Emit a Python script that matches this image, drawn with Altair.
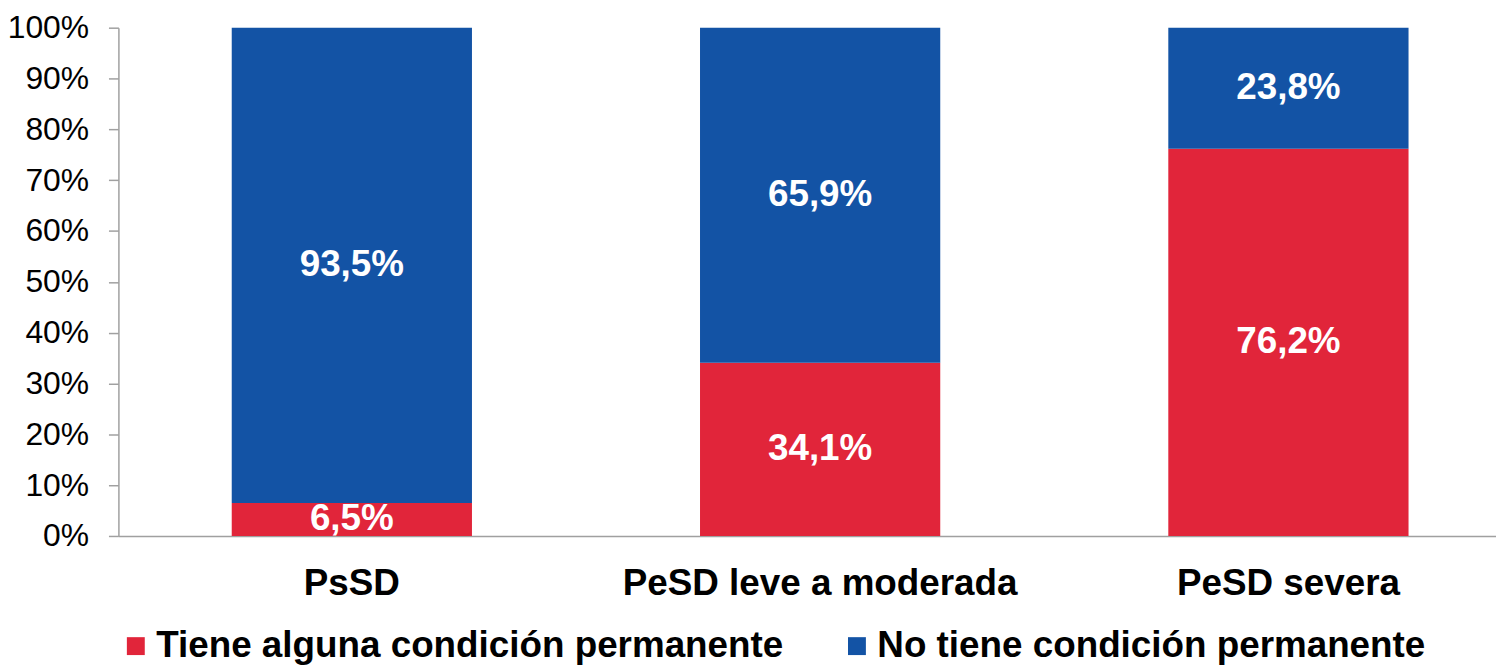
import altair as alt
import pandas as pd

categories = ["PsSD", "PeSD leve a moderada", "PeSD severa"]
series = ["Tiene alguna condición permanente", "No tiene condición permanente"]
tiene = [6.5, 34.1, 76.2]
no_tiene = [93.5, 65.9, 23.8]
colors = ["#E1253A", "#1353A5"]
y_ticks = [0, 10, 20, 30, 40, 50, 60, 70, 80, 90, 100]

rows = []
for i, c in enumerate(categories):
    rows.append({"cat": c, "serie": series[0], "value": tiene[i], "ord": 0})
    rows.append({"cat": c, "serie": series[1], "value": no_tiene[i], "ord": 1})
df = pd.DataFrame(rows)

FONT = "Liberation Sans"

base = alt.Chart(df).transform_stack(
    stack="value", groupby=["cat"], sort=[alt.SortField("ord")], as_=["y0", "y1"]
).transform_calculate(
    mid="(datum.y0 + datum.y1) / 2",
    lab="replace(format(datum.value, '.1f'), '.', ',') + '%'",
)

x_enc = alt.X(
    "cat:N",
    sort=categories,
    title=None,
    scale=alt.Scale(range=[0, 1411], paddingInner=0.487, paddingOuter=0.242),
    axis=alt.Axis(
        labelAngle=0,
        labelFont=FONT,
        labelFontSize=37,
        labelFontWeight="bold",
        labelColor="#000000",
        labelPadding=30,
        labelLimit=1000,
        ticks=False,
        domainColor="#A0A0A0",
        domainWidth=1.5,
        grid=False,
    ),
)

bars = base.mark_bar().encode(
    x=x_enc,
    y=alt.Y(
        "y0:Q",
        scale=alt.Scale(domain=[0, 100]),
        title=None,
        axis=alt.Axis(
            values=y_ticks,
            labelExpr="datum.value + '%'",
            labelFont=FONT,
            labelFontSize=32,
            labelColor="#000000",
            labelPadding=20,
            tickSize=10,
            tickColor="#A0A0A0",
            tickWidth=1.5,
            domainColor="#A0A0A0",
            domainWidth=1.5,
            grid=False,
        ),
    ),
    y2="y1:Q",
    color=alt.Color(
        "serie:N",
        scale=alt.Scale(domain=series, range=colors),
        title=None,
        legend=alt.Legend(
            orient="none",
            legendX=-1,
            legendY=603,
            direction="horizontal",
            symbolType="square",
            symbolSize=324,
            symbolStrokeWidth=0,
            labelFont=FONT,
            labelFontSize=37,
            labelFontWeight="bold",
            labelColor="#000000",
            labelOffset=2,
            columnPadding=55,
            labelLimit=1000,
            padding=0,
        ),
    ),
    order=alt.Order("ord:Q"),
)

texts = base.mark_text(
    font=FONT, fontSize=37, fontWeight="bold", color="white", baseline="middle"
).encode(
    x=alt.X("cat:N", sort=categories),
    y=alt.Y("mid:Q"),
    text="lab:N",
)

chart = (
    alt.layer(bars, texts)
    .properties(
        width=1385,
        height=511,
        autosize=alt.AutoSizeParams(type="none"),
        padding={"left": 111, "top": 18, "right": 0, "bottom": 140},
    )
    .configure_view(stroke=None)
)

chart.save("out.html", embed_options={"renderer": "svg", "actions": False})
